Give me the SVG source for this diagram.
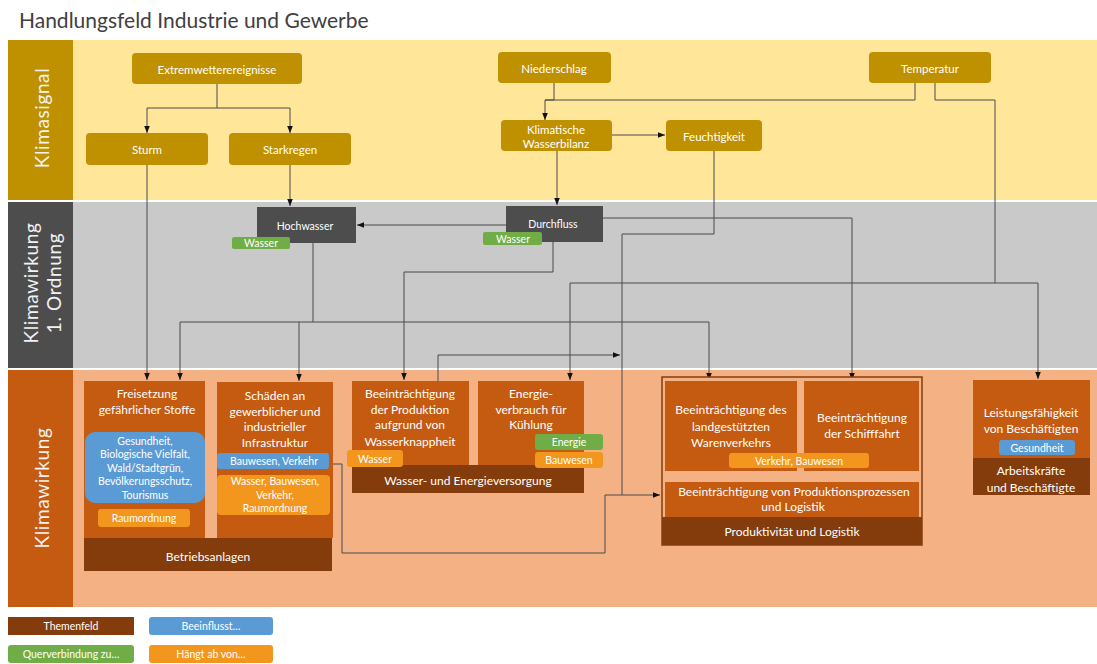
<svg xmlns="http://www.w3.org/2000/svg" width="1097" height="664" viewBox="0 0 1097 664">
<style>
text{font-family:Lato,"Liberation Sans",sans-serif;fill:#fff;text-anchor:middle;dominant-baseline:central}
.s11{font-size:11.5px}
.s12{font-size:12px}
.s10{font-size:10.5px}
.lane{font-size:19px;fill:#F2F2F2;letter-spacing:0.6px}
.ks{fill:#BF9000}
.k1{fill:#4D4D4D}
.kw{fill:#C55A11}
.tf{fill:#843C0C}
.bl{fill:#5B9BD5}
.gr{fill:#70AD47}
.or{fill:#F2961E}
.ln{fill:none;stroke:#4a4a4a;stroke-width:1}
.ar{marker-end:url(#a)}
</style>
<defs>
<marker id="a" viewBox="0 0 10 10" refX="10" refY="5" markerWidth="7" markerHeight="7" orient="auto" markerUnits="userSpaceOnUse"><path d="M0,1 L10,5 L0,9 z" fill="#111"/></marker>
</defs>
<rect width="1097" height="664" fill="#fff"/>
<text x="19" y="19" style="font-size:21px;fill:#404040;text-anchor:start">Handlungsfeld Industrie und Gewerbe</text>

<g id="lanes">
<rect x="73" y="40" width="1024" height="160" fill="#FFE699"/>
<rect x="8" y="40" width="65" height="160" class="ks"/>
<text class="lane" transform="translate(41,118) rotate(-90)">Klimasignal</text>
<rect x="73" y="202" width="1024" height="166" fill="#C9C9C9"/>
<rect x="8" y="202" width="65" height="166" class="k1"/>
<text class="lane" transform="translate(41,283) rotate(-90)"><tspan x="0" y="-11">Klimawirkung</tspan><tspan x="0" y="12">1. Ordnung</tspan></text>
<rect x="73" y="370" width="1024" height="237" fill="#F4B183"/>
<rect x="8" y="370" width="65" height="237" class="kw"/>
<text class="lane" transform="translate(41,488) rotate(-90)">Klimawirkung</text>
</g>

<g id="connectors">
<path class="ln ar" d="M217,84 V108 H147 V133"/>
<path class="ln ar" d="M217,108 H290 V133"/>
<path class="ln ar" d="M554,83 V100 H545 V120"/>
<path class="ln" d="M915,83 V100 H545"/>
<path class="ln" d="M935,83 V100 H995 V283"/>
<path class="ln ar" d="M570,283 H1038 V379"/>
<path class="ln ar" d="M570,283 V380"/>
<path class="ln ar" d="M612,135 H665"/>
<path class="ln ar" d="M557,151 V205"/>
<path class="ln ar" d="M714,151 V234 H622 V495 H660"/>
<path class="ln" d="M330,464 H342 V553 H605 V495 H622"/>
<path class="ln ar" d="M147,165 V380"/>
<path class="ln ar" d="M290,165 V206"/>
<path class="ln ar" d="M506,225 H357"/>
<path class="ln ar" d="M313,243 V322 H180 V380"/>
<path class="ln ar" d="M299,322 V381"/>
<path class="ln ar" d="M313,322 H709 V380"/>
<path class="ln ar" d="M553,242 V272 H404 V380"/>
<path class="ln ar" d="M603,218 H852 V380"/>
<path class="ln ar" d="M438,381 V355 H620"/>
</g>

<g id="extremwetter"><rect x="132" y="53" width="170" height="31" rx="4" class="ks"/><text class="s11" x="217" y="69">Extremwetterereignisse</text></g>
<g id="sturm"><rect x="86" y="133" width="122" height="32" rx="4" class="ks"/><text class="s11" x="147" y="149">Sturm</text></g>
<g id="starkregen"><rect x="229" y="133" width="122" height="32" rx="4" class="ks"/><text class="s11" x="290" y="149">Starkregen</text></g>
<g id="niederschlag"><rect x="498" y="52" width="113" height="31" rx="4" class="ks"/><text class="s11" x="554" y="68">Niederschlag</text></g>
<g id="wasserbilanz"><rect x="501" y="120" width="111" height="31" rx="4" class="ks"/><text class="s11" x="556" y="129">Klimatische</text><text class="s11" x="556" y="143">Wasserbilanz</text></g>
<g id="feuchtigkeit"><rect x="666" y="120" width="96" height="31" rx="4" class="ks"/><text class="s11" x="714" y="136">Feuchtigkeit</text></g>
<g id="temperatur"><rect x="869" y="52" width="122" height="31" rx="4" class="ks"/><text class="s11" x="930" y="68">Temperatur</text></g>

<g id="hochwasser"><rect x="257" y="207" width="99" height="36" class="k1"/><text class="s10" x="305" y="226">Hochwasser</text>
<rect x="232" y="237" width="58" height="12" rx="2" class="gr"/><text class="s10" x="261" y="243">Wasser</text></g>
<g id="durchfluss"><rect x="506" y="206" width="97" height="36" class="k1"/><text class="s10" x="553" y="224">Durchfluss</text>
<rect x="483" y="232" width="59" height="13" rx="2" class="gr"/><text class="s10" x="513" y="238.5">Wasser</text></g>

<g id="betriebsanlagen">
<rect x="84" y="381" width="121" height="157" class="kw"/>
<text class="s12" x="147" y="393">Freisetzung</text><text class="s12" x="147" y="409">gefährlicher Stoffe</text>
<rect x="85" y="432" width="120" height="71" rx="10" class="bl"/>
<text class="s10" x="145" y="441">Gesundheit,</text><text class="s10" x="145" y="454">Biologische Vielfalt,</text><text class="s10" x="145" y="467.5">Wald/Stadtgrün,</text><text class="s10" x="145" y="481">Bevölkerungsschutz,</text><text class="s10" x="145" y="495">Tourismus</text>
<rect x="98" y="509" width="92" height="18" rx="3" class="or"/><text class="s10" x="144" y="518">Raumordnung</text>
<rect x="217" y="382" width="116" height="156" class="kw"/>
<text class="s12" x="275" y="395">Schäden an</text><text class="s12" x="275" y="411">gewerblicher und</text><text class="s12" x="275" y="426">industrieller</text><text class="s12" x="275" y="442">Infrastruktur</text>
<rect x="217" y="453" width="112" height="16" rx="3" class="bl"/><text class="s10" x="274" y="461">Bauwesen, Verkehr</text>
<rect x="217" y="475" width="113" height="40" rx="4" class="or"/>
<text class="s10" x="275" y="481">Wasser, Bauwesen,</text><text class="s10" x="275" y="495">Verkehr,</text><text class="s10" x="275" y="508">Raumordnung</text>
<rect x="84" y="538" width="248" height="33" class="tf"/><text class="s12" x="208" y="556">Betriebsanlagen</text>
</g>

<g id="wasserenergie">
<rect x="352" y="381" width="117" height="84" class="kw"/>
<text class="s12" x="410" y="393">Beeinträchtigung</text><text class="s12" x="410" y="409">der Produktion</text><text class="s12" x="410" y="424">aufgrund von</text><text class="s12" x="410" y="441">Wasserknappheit</text>
<rect x="478" y="381" width="106" height="84" class="kw"/>
<text class="s12" x="531" y="393">Energie-</text><text class="s12" x="531" y="409">verbrauch für</text><text class="s12" x="531" y="424">Kühlung</text>
<rect x="352" y="465" width="232" height="28" class="tf"/><text class="s12" x="468" y="480">Wasser- und Energieversorgung</text>
<rect x="347" y="450" width="56" height="17" rx="3" class="or"/><text class="s10" x="375" y="458.5">Wasser</text>
<rect x="535" y="434" width="68" height="16" rx="3" class="gr"/><text class="s10" x="569" y="442">Energie</text>
<rect x="535" y="452" width="68" height="16" rx="3" class="or"/><text class="s10" x="569" y="460">Bauwesen</text>
</g>

<g id="produktivitaet">
<rect x="662" y="377" width="260" height="168" fill="#F4B183" stroke="#843C0C" stroke-width="1.5"/>
<rect x="665" y="381" width="132" height="90" class="kw"/>
<text class="s12" x="731" y="409">Beeinträchtigung des</text><text class="s12" x="731" y="426">landgestützten</text><text class="s12" x="731" y="442">Warenverkehrs</text>
<rect x="804" y="381" width="115" height="90" class="kw"/>
<text class="s12" x="862" y="417">Beeinträchtigung</text><text class="s12" x="862" y="433">der Schifffahrt</text>
<rect x="729" y="453" width="140" height="15" rx="3" class="or"/><text class="s10" x="799" y="460.5">Verkehr, Bauwesen</text>
<rect x="665" y="482" width="254" height="35" class="kw"/>
<text class="s12" x="794" y="491">Beeinträchtigung von Produktionsprozessen</text><text class="s12" x="793" y="506">und Logistik</text>
<rect x="662" y="517" width="260" height="28" class="tf"/><text class="s12" x="792" y="531">Produktivität und Logistik</text>
</g>

<g id="arbeitskraefte">
<rect x="973" y="380" width="117" height="78" class="kw"/>
<text class="s12" x="1031" y="412">Leistungsfähigkeit</text><text class="s12" x="1031" y="428">von Beschäftigten</text>
<rect x="999" y="440" width="76" height="15" rx="3" class="bl"/><text class="s10" x="1037" y="447.5">Gesundheit</text>
<rect x="973" y="458" width="117" height="37" class="tf"/>
<text class="s12" x="1031" y="470">Arbeitskräfte</text><text class="s12" x="1031" y="487">und Beschäftigte</text>
</g>

<g id="legend">
<rect x="8" y="617" width="126" height="18" class="tf"/><text class="s10" x="71" y="626">Themenfeld</text>
<rect x="149" y="617" width="124" height="18" rx="3" class="bl"/><text class="s10" x="211" y="626">Beeinflusst…</text>
<rect x="8" y="645" width="126" height="18" rx="3" class="gr"/><text class="s10" x="71" y="654">Querverbindung zu…</text>
<rect x="149" y="645" width="124" height="18" rx="3" class="or"/><text class="s10" x="211" y="654">Hängt ab von…</text>
</g>
</svg>
